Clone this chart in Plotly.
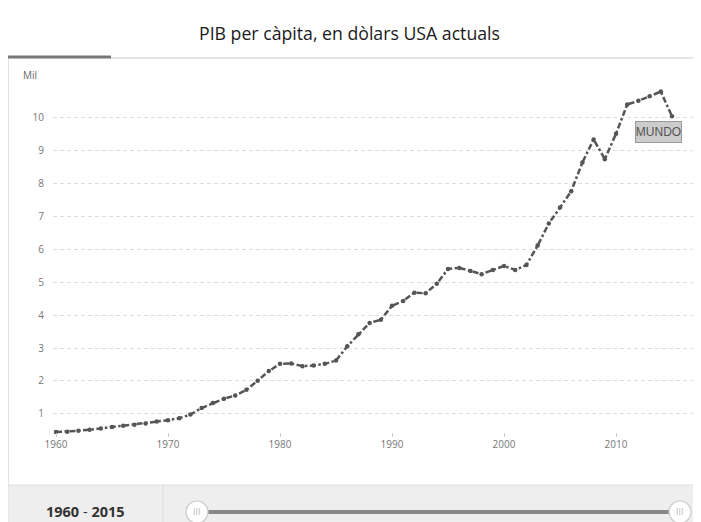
import plotly.graph_objects as go

years = list(range(1960, 2016))
gdp_per_capita_thousands = [
    0.45, 0.46, 0.49, 0.52, 0.56, 0.60, 0.64, 0.67, 0.71, 0.77,
    0.81, 0.87, 0.98, 1.18, 1.33, 1.46, 1.56, 1.73, 2.01, 2.30,
    2.52, 2.53, 2.45, 2.47, 2.52, 2.62, 3.05, 3.42, 3.76, 3.86,
    4.28, 4.43, 4.68, 4.66, 4.95, 5.40, 5.43, 5.34, 5.24, 5.37,
    5.49, 5.37, 5.52, 6.11, 6.78, 7.26, 7.76, 8.63, 9.33, 8.73,
    9.50, 10.39, 10.50, 10.64, 10.78, 10.03,
]
y_ticks = [1, 2, 3, 4, 5, 6, 7, 8, 9, 10]
x_ticks = [1960, 1970, 1980, 1990, 2000, 2010]
title_text = "PIB per càpita, en dòlars USA actuals"
unit_text = "Mil"
series_name = "MUNDO"
range_text = "<b>1960</b> - <b>2015</b>"

# The page adds an 8px body margin; work in reference pixels and shift.
OFF = 8
W, H = 701 - OFF, 522 - OFF
# plot area in reference pixels: x 53..697, y 86..437
PL, PR, PT, PB = 53, 697, 86, 437
L = PL - OFF
R = W - (PR - OFF)
T = PT - OFF
B = H - (PB - OFF)
PW = W - L - R
PH = H - T - B


def px(x):
    return (x - OFF - L) / PW


def py(y):
    return (H - B - (y - OFF)) / PH


fig = go.Figure()
fig.add_trace(go.Scatter(
    x=years, y=gdp_per_capita_thousands, mode="lines+markers",
    line=dict(color="#555555", width=2.5, dash="6px,2.5px,2.5px,2.5px"),
    marker=dict(color="#555555", size=4.5),
    name=series_name, showlegend=False, hoverinfo="x+y",
))

shapes = [
    dict(type="rect", xref="paper", yref="paper", x0=px(8), x1=px(702), y0=py(485), y1=py(523),
         fillcolor="#eeeeee", line=dict(color="#dddddd", width=1), layer="below"),
    dict(type="line", xref="paper", yref="paper", x0=px(163), x1=px(163), y0=py(485), y1=py(523),
         line=dict(color="#dddddd", width=1)),
    dict(type="line", xref="paper", yref="paper", x0=px(8.5), x1=px(8.5), y0=py(57), y1=py(485),
         line=dict(color="#e3e3e3", width=1)),
    dict(type="line", xref="paper", yref="paper", x0=px(111), x1=px(702), y0=py(58), y1=py(58),
         line=dict(color="#dddddd", width=1.5)),
    dict(type="line", xref="paper", yref="paper", x0=px(8), x1=px(111), y0=py(57), y1=py(57),
         line=dict(color="#777777", width=3)),
    dict(type="line", xref="paper", yref="paper", x0=px(200), x1=px(678), y0=py(512), y1=py(512),
         line=dict(color="#888888", width=4)),
]
for cx in (197, 680):
    shapes.append(dict(type="circle", xref="paper", yref="paper",
                       x0=px(cx - 11), x1=px(cx + 11), y0=py(512 - 11), y1=py(512 + 11),
                       fillcolor="white", line=dict(color="#cccccc", width=1.2)))

annotations = [
    dict(text=title_text, xref="paper", yref="paper", x=px(349), y=py(33), showarrow=False,
         font=dict(family="Open Sans", size=17.7, color="#1a1a1a"), xanchor="center", yanchor="middle"),
    dict(text=unit_text, xref="paper", yref="paper", x=px(21), y=py(75), showarrow=False,
         font=dict(family="Open Sans", size=10, color="#666666"), xanchor="left", yanchor="middle"),
    dict(text=range_text, xref="paper", yref="paper", x=px(85), y=py(512), showarrow=False,
         font=dict(family="Open Sans", size=14.5, color="#333333"), xanchor="center", yanchor="middle"),
    dict(text=series_name, xref="paper", yref="paper", x=px(658.5), y=py(132), showarrow=False,
         font=dict(family="Liberation Sans", size=12, color="#555555"), xanchor="center", yanchor="middle",
         bgcolor="#cccccc", bordercolor="#999999", borderwidth=1, borderpad=0, width=45, height=20),
]
for cx in (197, 680):
    annotations.append(dict(text="III", xref="paper", yref="paper", x=px(cx), y=py(512), showarrow=False,
                            font=dict(family="Open Sans", size=9, color="#bbbbbb"),
                            xanchor="center", yanchor="middle"))

fig.update_layout(
    width=W, height=H,
    margin=dict(l=L, r=R, t=T, b=B),
    paper_bgcolor="white", plot_bgcolor="white",
    shapes=shapes, annotations=annotations,
    font=dict(family="Open Sans", size=10, color="#777777"),
    xaxis=dict(range=[1959.73, 2017.23], tickvals=x_ticks, showgrid=False, zeroline=False,
               showline=False, ticks="inside", ticklen=4, tickcolor="#cccccc", tickwidth=1,
               tickfont=dict(size=10, color="#777777")),
    yaxis=dict(range=[0.30, 10.95], tickvals=y_ticks, showgrid=True, gridcolor="#dddddd",
               griddash="4px,3px", gridwidth=1, zeroline=False, showline=False,
               ticks="", ticklabelstandoff=8, tickfont=dict(size=10, color="#777777")),
)

fig.write_html("out.html")
